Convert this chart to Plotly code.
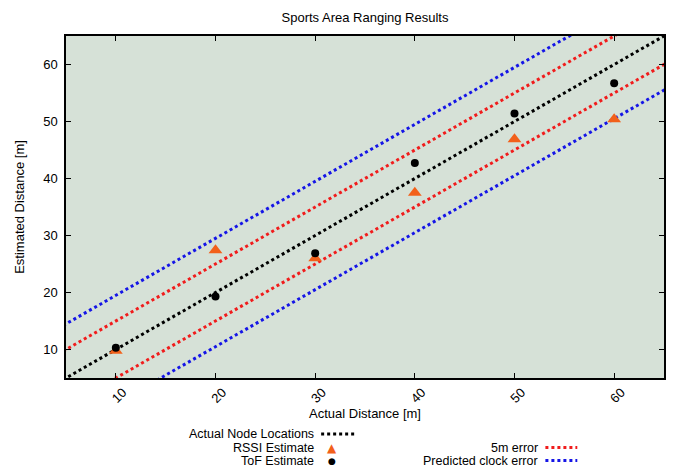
import plotly.graph_objects as go

# ---- data ----
actual_distance = [10, 20, 30, 40, 50, 60]
tof_estimate = [10.3, 19.3, 26.9, 42.7, 51.4, 56.7]
rssi_estimate = [9.8, 27.4, 26.0, 37.5, 46.9, 50.4]
line_x = [0, 70]
error_5m = 5
clock_error = 9.5
x_ticks = [10, 20, 30, 40, 50, 60]
y_ticks = [10, 20, 30, 40, 50, 60]

FONT = "Liberation Sans Narrow, Arial Narrow, Liberation Sans, Arial, sans-serif"
ORANGE = "#f2601a"
RED = "#f01c1c"
BLUE = "#1515e6"
DOT = "3px,3px"

# page body has an 8px margin: figure is sized/margined to compensate
W, H = 668, 460
ML, MR, MT, MB = 58, 10, 28, 90
PW, PH = W - ML - MR, H - MT - MB
OFF = 8


def px_x(ax):  # absolute page pixel -> paper x
    return (ax - OFF - ML) / PW


def px_y(ay):  # absolute page pixel -> paper y
    return 1 - (ay - OFF - MT) / PH


fig = go.Figure()


def add_line(offset, color):
    fig.add_trace(go.Scatter(
        x=line_x, y=[v + offset for v in line_x], mode="lines",
        line=dict(color=color, width=3, dash=DOT), showlegend=False, hoverinfo="skip"))


add_line(clock_error, BLUE)
add_line(-clock_error, BLUE)
add_line(error_5m, RED)
add_line(-error_5m, RED)
add_line(0, "black")

fig.add_trace(go.Scatter(x=actual_distance, y=rssi_estimate, mode="markers",
                         marker=dict(symbol="triangle-up", size=12, color=ORANGE),
                         showlegend=False))
fig.add_trace(go.Scatter(x=actual_distance, y=tof_estimate, mode="markers",
                         marker=dict(symbol="circle", size=8, color="black"),
                         showlegend=False))

axis_common = dict(showgrid=False, zeroline=False, ticks="inside", ticklen=5,
                   tickcolor="black", showline=True, linecolor="black", linewidth=1.5,
                   mirror="allticks", tickfont=dict(family=FONT, size=13, color="black"))

fig.update_xaxes(range=[5, 65], tickvals=x_ticks, tickangle=-45, ticklabelshift=7,
                 title=dict(text="Actual Distance [m]", font=dict(family=FONT, size=13, color="black"), standoff=0),
                 **axis_common)
fig.update_yaxes(range=[5, 65], tickvals=y_ticks, ticklabelstandoff=4,
                 title=dict(text="Estimated Distance [m]", font=dict(family=FONT, size=13, color="black"), standoff=16),
                 **axis_common)

# ---- gnuplot-style legend (text right-aligned, sample to its right) ----
legend_rows = [
    ("Actual Node Locations", 316, 434, "line", "black", 322, 358),
    ("RSSI Estimate", 316, 447.5, "tri", ORANGE, 333, None),
    ("ToF Estimate", 316, 460.5, "dot", "black", 333, None),
    ("5m error", 541, 447.5, "line", RED, 547, 579),
    ("Predicted clock error", 541, 460.5, "line", BLUE, 547, 579),
]
for label, tx, ty, kind, color, s0, s1 in legend_rows:
    y = px_y(ty)
    fig.add_annotation(x=px_x(tx), y=y, xref="paper", yref="paper", yanchor="middle", xanchor="right",
                       text=label, showarrow=False, borderpad=0,
                       font=dict(family=FONT, size=12.5, color="black"))
    if kind == "line":
        fig.add_shape(type="line", xref="paper", yref="paper", x0=px_x(s0), x1=px_x(s1),
                      y0=y, y1=y, line=dict(color=color, width=3, dash=DOT))
    else:
        sym = "▲" if kind == "tri" else "●"
        fig.add_annotation(x=px_x(s0), y=y, xref="paper", yref="paper", xanchor="center",
                           yanchor="middle", text=sym, showarrow=False, borderpad=0,
                           font=dict(family="DejaVu Sans", size=12 if kind == "tri" else 9, color=color))

fig.update_layout(
    width=W, height=H,
    margin=dict(l=ML, r=MR, t=MT, b=MB),
    paper_bgcolor="white", plot_bgcolor="#d6e1d7",
    title=dict(text="Sports Area Ranging Results", x=0.5, xref="paper",
               xanchor="center", y=1 - (17 - OFF) / H, yanchor="middle",
               font=dict(family=FONT, size=13, color="black")),
    showlegend=False,
)

fig.write_html("out.html")
